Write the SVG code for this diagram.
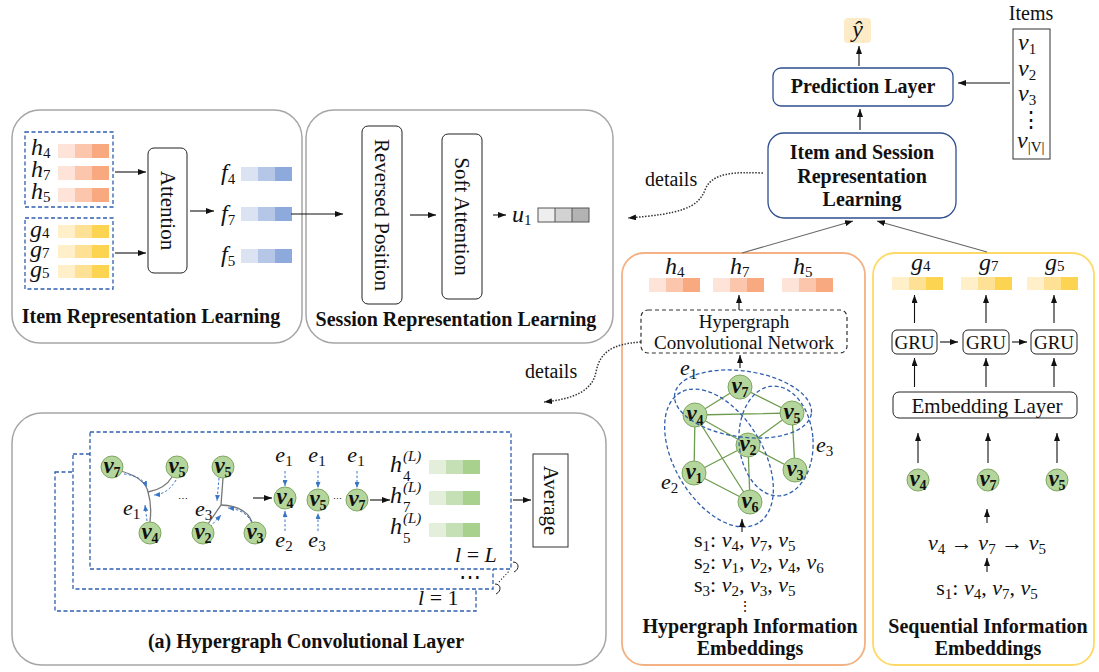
<svg xmlns="http://www.w3.org/2000/svg" xmlns:xlink="http://www.w3.org/1999/xlink" width="1099" height="672" viewBox="0 0 1099 672">
<style>
text{font-family:"Liberation Serif","Times New Roman",serif;fill:#111}
.tb{font-size:20px;font-weight:bold;text-anchor:middle}
.tr{font-size:20px}
.m{font-size:24px;font-style:italic}
.mt{font-size:22px}
.i{font-style:italic}
.sub{font-size:15px;font-style:normal}
.sup{font-size:15px}
.nl{font-size:23px;font-weight:bold;font-style:italic;text-anchor:middle}
.nl .sub{font-size:14px}
.panel{fill:none;stroke:#a6a6a6;stroke-width:1.5}
.box{fill:#fff;stroke:#222;stroke-width:1}
.bbox{fill:#fff;stroke:#2f4f8f;stroke-width:1.3}
.dash{fill:none;stroke:#2f5fae;stroke-width:1.3;stroke-dasharray:4 2.5}
.ar{stroke:#111;stroke-width:1.1;fill:none;marker-end:url(#ah)}
.ard{stroke:#3a76c8;stroke-width:1;fill:none;stroke-dasharray:2.5 2;marker-end:url(#ahb)}
.gl{stroke:#6e9c4e;stroke-width:1.3;fill:none}
.node{fill:#b4d69c;stroke:#7fa662;stroke-width:1}
.dot{stroke:#333;stroke-width:1.5;fill:none;stroke-dasharray:1.5 1.5;marker-end:url(#ah)}
.gc{stroke:#777;stroke-width:1.3;fill:none}
</style>
<defs>
<marker id="ah" markerUnits="userSpaceOnUse" markerWidth="8" markerHeight="6" refX="8" refY="3" orient="auto"><path d="M0,0 L8,3 L0,6 z" fill="#111"/></marker>
<marker id="ahb" markerUnits="userSpaceOnUse" markerWidth="6" markerHeight="5" refX="6" refY="2.5" orient="auto"><path d="M0,0 L6,2.5 L0,5 z" fill="#3a76c8"/></marker>
<g id="hb"><rect width="17" height="14" fill="#fde3d8"/><rect x="17" width="17" height="14" fill="#fbc6ab"/><rect x="34" width="17" height="14" fill="#f8a980"/></g>
<g id="gb"><rect width="17" height="13" fill="#fff0c9"/><rect x="17" width="17" height="13" fill="#fee195"/><rect x="34" width="17" height="13" fill="#fdd352"/></g>
<g id="fb"><rect width="17" height="14" fill="#dbe3f3"/><rect x="17" width="17" height="14" fill="#b5c6e7"/><rect x="34" width="17" height="14" fill="#8eaadc"/></g>
<g id="lb"><rect width="17" height="14" fill="#e3efda"/><rect x="17" width="17" height="14" fill="#c6e0b5"/><rect x="34" width="17" height="14" fill="#a9d18e"/></g>
</defs>
<rect width="1099" height="672" fill="#fff"/>

<!-- Item Representation Learning -->
<g id="item-rep">
<rect class="panel" x="12" y="110" width="290" height="233" rx="28"/>
<rect class="dash" x="25" y="132" width="88" height="75"/>
<rect class="dash" x="25" y="218" width="88" height="71"/>
<text class="m" x="31" y="155">h<tspan class="sub" dy="3">4</tspan><tspan x="31" dy="19">h</tspan><tspan class="sub" dy="3">7</tspan><tspan x="31" dy="19">h</tspan><tspan class="sub" dy="3">5</tspan></text>
<use xlink:href="#hb" x="58" y="144"/><use xlink:href="#hb" x="58" y="166"/><use xlink:href="#hb" x="58" y="188"/>
<text class="m" x="30" y="237">g<tspan class="sub" dy="1">4</tspan><tspan x="30" dy="19">g</tspan><tspan class="sub" dy="1">7</tspan><tspan x="30" dy="19">g</tspan><tspan class="sub" dy="1">5</tspan></text>
<use xlink:href="#gb" x="58" y="225"/><use xlink:href="#gb" x="58" y="245"/><use xlink:href="#gb" x="58" y="265"/>
<rect class="box" x="148" y="148" width="39" height="125" rx="6"/>
<text class="tr" style="font-size:21px" text-anchor="middle" transform="translate(167.5 210.5) rotate(90)" y="7">Attention</text>
<text class="m" x="221" y="180">f<tspan class="sub" dy="4">4</tspan></text>
<text class="m" x="221" y="221">f<tspan class="sub" dy="4">7</tspan></text>
<text class="m" x="221" y="262">f<tspan class="sub" dy="4">5</tspan></text>
<use xlink:href="#fb" x="241" y="167"/><use xlink:href="#fb" x="241" y="207"/><use xlink:href="#fb" x="241" y="249"/>
<text class="tb" x="151" y="323">Item Representation Learning</text>
</g>

<!-- Session Representation Learning -->
<g id="session-rep">
<rect class="panel" x="306" y="110" width="307" height="233" rx="28"/>
<rect class="box" x="362" y="126" width="40" height="178" rx="6"/>
<text class="tr" style="font-size:21px" text-anchor="middle" transform="translate(382 215) rotate(90)" y="7">Reversed Position</text>
<rect class="box" x="442" y="134" width="40" height="165" rx="6"/>
<text class="tr" style="font-size:21px" text-anchor="middle" transform="translate(462 216.5) rotate(90)" y="7">Soft Attention</text>
<text class="m" x="512" y="222">u<tspan class="sub" dy="3">1</tspan></text>
<g transform="translate(538 208)"><rect width="17" height="14" fill="#eeeeee"/><rect x="17" width="17" height="14" fill="#d2d2d2"/><rect x="34" width="17" height="14" fill="#b3b3b3"/><rect width="51" height="14" fill="none" stroke="#555" stroke-width="1"/><path d="M17,0V14M34,0V14" stroke="#555" stroke-width="1"/></g>
<text class="tb" x="456" y="326">Session Representation Learning</text>
</g>

<!-- Prediction / top -->
<g id="y-hat">
<rect x="844" y="18" width="27" height="25" rx="4" fill="#fdebc8"/>
<text class="m" x="857.5" y="37" text-anchor="middle">ŷ</text>
</g>
<g id="prediction-layer">
<rect class="bbox" x="773" y="68" width="180" height="38" rx="8"/>
<text class="tb" x="863" y="93">Prediction Layer</text>
</g>
<g id="item-session-rep">
<rect class="bbox" x="768" y="133" width="188" height="85" rx="16"/>
<text class="tb" x="862" y="159">Item and Session</text>
<text class="tb" x="862" y="183">Representation</text>
<text class="tb" x="862" y="206">Learning</text>
</g>
<g id="items">
<text class="tr" x="1031" y="20" text-anchor="middle">Items</text>
<rect x="1013" y="29" width="37" height="130" fill="none" stroke="#333" stroke-width="1"/>
<text class="m" x="1018" y="50">v<tspan class="sub" dy="4">1</tspan></text>
<text class="m" x="1018" y="76">v<tspan class="sub" dy="4">2</tspan></text>
<text class="m" x="1018" y="101">v<tspan class="sub" dy="4">3</tspan></text>
<text class="mt" x="1031" y="127" text-anchor="middle">⋮</text>
<text class="m" x="1017" y="148">v<tspan class="sub" dy="4">|V|</tspan></text>
</g>

<!-- Hypergraph Information Embeddings -->
<g id="hypergraph-info">
<rect x="622" y="253" width="243" height="412" rx="22" fill="none" stroke="#f4b183" stroke-width="1.8"/>
<text class="m" x="665" y="274">h<tspan class="sub" dy="3">4</tspan></text>
<text class="m" x="730" y="274">h<tspan class="sub" dy="3">7</tspan></text>
<text class="m" x="793" y="274">h<tspan class="sub" dy="3">5</tspan></text>
<use xlink:href="#hb" x="649" y="278"/><use xlink:href="#hb" x="713" y="278"/><use xlink:href="#hb" x="782" y="278"/>
<rect x="641" y="310" width="206" height="43" rx="7" fill="none" stroke="#333" stroke-width="1.2" stroke-dasharray="4 3"/>
<text class="tr" style="font-size:19px" x="744" y="328" text-anchor="middle">Hypergraph</text>
<text class="tr" style="font-size:19px" x="744" y="349" text-anchor="middle">Convolutional Network</text>
<g id="hg-edges">
<path class="gl" d="M740,387L695,415M740,387L792,413M695,415L792,413M695,415L748,445M695,415L694,473M695,415L750,502M792,413L748,445M792,413L795,470M748,445L694,473M748,445L795,470M748,445L750,502M694,473L750,502"/>
</g>
<g id="hg-nodes">
<circle class="node" cx="740" cy="387" r="12"/><text class="nl" x="740" y="393">v<tspan class="sub" dy="4">7</tspan></text>
<circle class="node" cx="695" cy="415" r="12"/><text class="nl" x="695" y="421">v<tspan class="sub" dy="4">4</tspan></text>
<circle class="node" cx="792" cy="413" r="12"/><text class="nl" x="792" y="419">v<tspan class="sub" dy="4">5</tspan></text>
<circle class="node" cx="748" cy="445" r="12"/><text class="nl" x="748" y="451">v<tspan class="sub" dy="4">2</tspan></text>
<circle class="node" cx="694" cy="473" r="12"/><text class="nl" x="694" y="479">v<tspan class="sub" dy="4">1</tspan></text>
<circle class="node" cx="795" cy="470" r="12"/><text class="nl" x="795" y="476">v<tspan class="sub" dy="4">3</tspan></text>
<circle class="node" cx="750" cy="502" r="12"/><text class="nl" x="750" y="508">v<tspan class="sub" dy="4">6</tspan></text>
</g>
<g id="hyperedges">
<ellipse class="dash" cx="743" cy="404" rx="69" ry="33" transform="rotate(8 743 404)"/>
<ellipse class="dash" cx="719" cy="458" rx="76" ry="44" transform="rotate(59 719 458)"/>
<ellipse class="dash" cx="776" cy="441" rx="37" ry="55" transform="rotate(-4 776 441)"/>
</g>
<text class="m" style="font-size:22px" x="680" y="375">e<tspan class="sub" dy="4">1</tspan></text>
<text class="m" style="font-size:22px" x="661" y="489">e<tspan class="sub" dy="4">2</tspan></text>
<text class="m" style="font-size:22px" x="816" y="452">e<tspan class="sub" dy="4">3</tspan></text>
<text class="mt" x="694" y="547">s<tspan class="sub" dy="4">1</tspan><tspan dy="-4">: </tspan><tspan class="i">v</tspan><tspan class="sub" dy="4">4</tspan><tspan dy="-4">, </tspan><tspan class="i">v</tspan><tspan class="sub" dy="4">7</tspan><tspan dy="-4">, </tspan><tspan class="i">v</tspan><tspan class="sub" dy="4">5</tspan></text>
<text class="mt" x="694" y="569">s<tspan class="sub" dy="4">2</tspan><tspan dy="-4">: </tspan><tspan class="i">v</tspan><tspan class="sub" dy="4">1</tspan><tspan dy="-4">, </tspan><tspan class="i">v</tspan><tspan class="sub" dy="4">2</tspan><tspan dy="-4">, </tspan><tspan class="i">v</tspan><tspan class="sub" dy="4">4</tspan><tspan dy="-4">, </tspan><tspan class="i">v</tspan><tspan class="sub" dy="4">6</tspan></text>
<text class="mt" x="694" y="592">s<tspan class="sub" dy="4">3</tspan><tspan dy="-4">: </tspan><tspan class="i">v</tspan><tspan class="sub" dy="4">2</tspan><tspan dy="-4">, </tspan><tspan class="i">v</tspan><tspan class="sub" dy="4">3</tspan><tspan dy="-4">, </tspan><tspan class="i">v</tspan><tspan class="sub" dy="4">5</tspan></text>
<text class="mt" style="font-size:14px" x="745" y="611" text-anchor="middle">⋮</text>
<text class="tb" x="750" y="633">Hypergraph Information</text>
<text class="tb" x="750" y="655">Embeddings</text>
</g>

<!-- Sequential Information Embeddings -->
<g id="sequential-info">
<rect x="873" y="253" width="221" height="412" rx="22" fill="none" stroke="#ffd966" stroke-width="1.8"/>
<text class="m" x="911" y="270">g<tspan class="sub" dy="1">4</tspan></text>
<text class="m" x="979" y="270">g<tspan class="sub" dy="1">7</tspan></text>
<text class="m" x="1045" y="270">g<tspan class="sub" dy="1">5</tspan></text>
<use xlink:href="#gb" x="892" y="277"/><use xlink:href="#gb" x="961" y="277"/><use xlink:href="#gb" x="1027" y="277"/>
<g id="gru1"><rect class="box" x="892" y="330" width="45" height="24" rx="5"/><text class="tr" style="font-size:19px" x="914.5" y="349" text-anchor="middle">GRU</text></g>
<g id="gru2"><rect class="box" x="963" y="330" width="46" height="24" rx="5"/><text class="tr" style="font-size:19px" x="986" y="349" text-anchor="middle">GRU</text></g>
<g id="gru3"><rect class="box" x="1031" y="330" width="46" height="24" rx="5"/><text class="tr" style="font-size:19px" x="1054" y="349" text-anchor="middle">GRU</text></g>
<g id="embedding-layer"><rect class="box" x="893" y="392" width="184" height="26" rx="6"/><text class="tr" style="font-size:21px" x="987" y="413" text-anchor="middle">Embedding Layer</text></g>
<g id="seq-nodes">
<circle class="node" cx="918" cy="480" r="11"/><text class="nl" x="918" y="486">v<tspan class="sub" dy="4">4</tspan></text>
<circle class="node" cx="988" cy="480" r="11"/><text class="nl" x="988" y="486">v<tspan class="sub" dy="4">7</tspan></text>
<circle class="node" cx="1057" cy="480" r="11"/><text class="nl" x="1057" y="486">v<tspan class="sub" dy="4">5</tspan></text>
</g>
<text class="mt" x="987" y="550" text-anchor="middle"><tspan class="i">v</tspan><tspan class="sub" dy="4">4</tspan><tspan dy="-4"> → </tspan><tspan class="i">v</tspan><tspan class="sub" dy="4">7</tspan><tspan dy="-4"> → </tspan><tspan class="i">v</tspan><tspan class="sub" dy="4">5</tspan></text>
<text class="mt" x="987" y="595" text-anchor="middle">s<tspan class="sub" dy="4">1</tspan><tspan dy="-4">: </tspan><tspan class="i">v</tspan><tspan class="sub" dy="4">4</tspan><tspan dy="-4">, </tspan><tspan class="i">v</tspan><tspan class="sub" dy="4">7</tspan><tspan dy="-4">, </tspan><tspan class="i">v</tspan><tspan class="sub" dy="4">5</tspan></text>
<text class="tb" x="988" y="633">Sequential Information</text>
<text class="tb" x="988" y="655">Embeddings</text>
</g>

<!-- Hypergraph Convolutional Layer -->
<g id="hgcl">
<rect class="panel" x="12" y="413" width="594" height="252" rx="30"/>
<rect class="dash" x="55" y="472" width="421" height="139"/>
<rect class="dash" style="fill:#fff" x="73" y="454" width="420" height="135"/>
<rect class="dash" style="fill:#fff" x="90" y="432" width="421" height="137"/>
<text class="m" style="font-size:22px" x="418" y="605">l <tspan style="font-style:normal">= 1</tspan></text>
<text class="mt" x="470" y="584" text-anchor="middle">⋯</text>
<text class="m" style="font-size:22px" x="455" y="562">l <tspan style="font-style:normal">=</tspan> L</text>
<path d="M513,562 c6,0 7,7 1,10" stroke="#222" stroke-width="1" fill="none"/>
<path d="M495,584 c6,0 7,7 1,10" stroke="#222" stroke-width="1" fill="none"/>
<path d="M499,582 L510,570" stroke="#333" stroke-width="1.2" stroke-dasharray="1.2 2" fill="none"/>
<g id="hgcl-group1">
<path class="gc" d="M121,471 Q145,478 148,492 Q152,505 150,522"/>
<path class="gc" d="M172,477 Q165,489 148,492"/>
<path class="ard" d="M124,474 Q142,476 147,487"/>
<path class="ard" d="M176,480 Q168,494 154,495"/>
<path class="ard" d="M147,521 L145,505"/>
<circle class="node" cx="112" cy="467" r="11"/><text class="nl" x="112" y="473">v<tspan class="sub" dy="4">7</tspan></text>
<circle class="node" cx="177" cy="467" r="11"/><text class="nl" x="177" y="473">v<tspan class="sub" dy="4">5</tspan></text>
<circle class="node" cx="150" cy="533" r="11"/><text class="nl" x="150" y="539">v<tspan class="sub" dy="4">4</tspan></text>
<text class="m" style="font-size:22px" x="123" y="515">e<tspan class="sub" dy="4">1</tspan></text>
</g>
<text class="mt" style="font-size:10px" x="183" y="502" text-anchor="middle">⋯</text>
<g id="hgcl-group2">
<path class="gc" d="M223,478 L221,505 L208,524"/>
<path class="gc" d="M221,505 Q246,506 252,522"/>
<path class="ard" d="M219,478 L217,501"/>
<path class="ard" d="M210,527 L221,515"/>
<path class="ard" d="M253,526 Q248,510 228,508"/>
<circle class="node" cx="223" cy="467" r="11"/><text class="nl" x="223" y="473">v<tspan class="sub" dy="4">5</tspan></text>
<circle class="node" cx="203" cy="533" r="11"/><text class="nl" x="203" y="539">v<tspan class="sub" dy="4">2</tspan></text>
<circle class="node" cx="255" cy="533" r="11"/><text class="nl" x="255" y="539">v<tspan class="sub" dy="4">3</tspan></text>
<text class="m" style="font-size:22px" x="195" y="516">e<tspan class="sub" dy="4">3</tspan></text>
</g>
<path class="ar" d="M253,498 L272,498"/>
<g id="hgcl-agg">
<text class="m" style="font-size:22px" x="284" y="462" text-anchor="middle">e<tspan class="sub" dy="4">1</tspan></text>
<path class="ard" d="M285,471 L285,486"/>
<circle class="node" cx="285" cy="498" r="11"/><text class="nl" x="285" y="504">v<tspan class="sub" dy="4">4</tspan></text>
<path class="ard" d="M285,531 L285,511"/>
<text class="m" style="font-size:22px" x="284" y="547" text-anchor="middle">e<tspan class="sub" dy="4">2</tspan></text>
<text class="m" style="font-size:22px" x="317" y="462" text-anchor="middle">e<tspan class="sub" dy="4">1</tspan></text>
<path class="ard" d="M318,471 L318,488"/>
<circle class="node" cx="318" cy="500" r="11"/><text class="nl" x="318" y="506">v<tspan class="sub" dy="4">5</tspan></text>
<path class="ard" d="M318,531 L318,513"/>
<text class="m" style="font-size:22px" x="317" y="547" text-anchor="middle">e<tspan class="sub" dy="4">3</tspan></text>
<text class="mt" style="font-size:9px" x="337" y="502" text-anchor="middle">⋯</text>
<text class="m" style="font-size:22px" x="356" y="462" text-anchor="middle">e<tspan class="sub" dy="4">1</tspan></text>
<path class="ard" d="M357,471 L357,488"/>
<circle class="node" cx="357" cy="500" r="11"/><text class="nl" x="357" y="506">v<tspan class="sub" dy="4">7</tspan></text>
</g>
<path class="ar" d="M370,500 L390,500"/>
<g id="hgcl-out">
<text class="m" x="390" y="472">h<tspan class="sup" x="403" dy="-11">(L)</tspan><tspan class="sub" x="403" dy="20">4</tspan><tspan x="390" dy="22">h</tspan><tspan class="sup" x="403" dy="-11">(L)</tspan><tspan class="sub" x="403" dy="20">7</tspan><tspan x="390" dy="22">h</tspan><tspan class="sup" x="403" dy="-11">(L)</tspan><tspan class="sub" x="403" dy="20">5</tspan></text>
<use xlink:href="#lb" x="429" y="460"/><use xlink:href="#lb" x="429" y="491"/><use xlink:href="#lb" x="429" y="523"/>
</g>
<path class="ar" d="M513,500 L531,500"/>
<g id="average"><rect x="533" y="454" width="35" height="93" fill="#fff" stroke="#333" stroke-width="1"/>
<text class="tr" style="font-size:21px" text-anchor="middle" transform="translate(550.5 500.5) rotate(90)" y="7">Average</text></g>
<text class="tb" x="306" y="648">(a) Hypergraph Convolutional Layer</text>
</g>

<!-- connectors -->
<g id="connectors">
<path class="ar" d="M115,172 L146,172"/>
<path class="ar" d="M115,253 L146,253"/>
<path class="ar" d="M190,211 L214,211"/>
<path class="ar" d="M291,214 L343,214"/>
<path class="ar" d="M410,215 L436,215"/>
<path class="ar" d="M493,215 L506,215"/>
<path class="ar" d="M859,66 L859,46"/>
<path class="ar" d="M860,130 L860,109"/>
<path class="ar" d="M1010,83 L958,83"/>
<path d="M742,253 L853,221" stroke="#666" stroke-width="1.1" fill="none" marker-end="url(#ah)"/>
<path d="M987,252 L877,221" stroke="#666" stroke-width="1.1" fill="none" marker-end="url(#ah)"/>
<path class="dot" d="M763,173 C735,172 712,172 705,190 C698,208 680,214 628,218"/>
<text class="tr" x="645" y="186">details</text>
<path class="dot" d="M641,342 C612,344 600,352 596,372 C592,392 572,399 544,402"/>
<text class="tr" x="525" y="378">details</text>
<path class="ar" d="M739,310 L739,295"/>
<path class="ar" d="M740,368 L740,355"/>
<path class="ar" d="M742,532 L742,519"/>
<path class="ar" d="M914.5,323 L914.5,295"/>
<path class="ar" d="M986,323 L986,295"/>
<path class="ar" d="M1054,323 L1054,295"/>
<path class="ar" d="M940,342 L958,342"/>
<path class="ar" d="M1012,342 L1027,342"/>
<path class="ar" d="M914.5,387 L914.5,358"/>
<path class="ar" d="M986,387 L986,358"/>
<path class="ar" d="M1054,387 L1054,358"/>
<path class="ar" d="M918,463 L918,433"/>
<path class="ar" d="M988,463 L988,433"/>
<path class="ar" d="M1057,463 L1057,433"/>
<path class="ar" d="M987,523 L987,509"/>
<path class="ar" d="M987,572 L987,558"/>
</g>
</svg>
